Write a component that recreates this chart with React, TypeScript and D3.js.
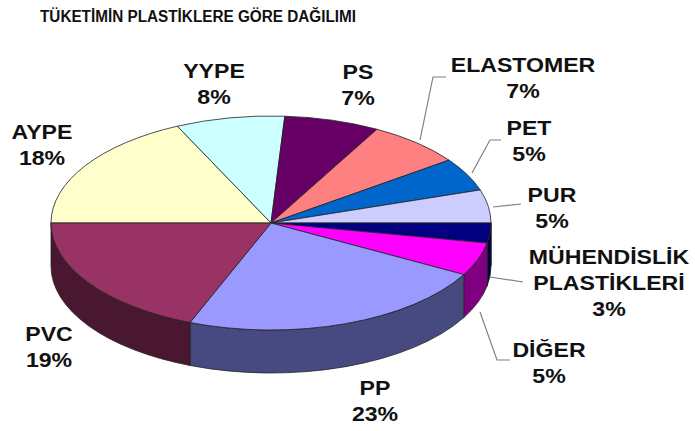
import React, { useEffect, useRef } from 'react'
import * as d3 from 'd3'

// slices in clockwise order, starting at 9 o'clock
const names = ['AYPE', 'YYPE', 'PS', 'ELASTOMER', 'PET', 'PUR', 'MÜHENDİSLİK PLASTİKLERİ', 'DİĞER', 'PP', 'PVC']
const values = [18, 8, 7, 7, 5, 5, 3, 5, 23, 19]
const topColors = ['#ffffcc', '#ccffff', '#660066', '#ff8080', '#0066cc', '#ccccff', '#000080', '#ff00ff', '#9999ff', '#993366']
const sideColors = ['#80805f', '#608080', '#330033', '#804040', '#003366', '#66667f', '#000045', '#800080', '#474a80', '#4a1730']

// label lines (text) for each slice
const labelLines = [
  ['AYPE', '18%'],
  ['YYPE', '8%'],
  ['PS', '7%'],
  ['ELASTOMER', '7%'],
  ['PET', '5%'],
  ['PUR', '5%'],
  ['MÜHENDİSLİK', 'PLASTİKLERİ', '3%'],
  ['DİĞER', '5%'],
  ['PP', '23%'],
  ['PVC', '19%'],
]
// label anchor: center x, first baseline y
const labelPos = [
  [42, 139], [214, 78], [358, 79], [523, 72], [529, 135],
  [552, 202], [609, 264], [549, 357], [375, 395], [49, 341],
]
// leader line polylines (only some slices have them)
const leaders: ([number, number][] | null)[] = [
  null, null, null,
  [[420, 140], [433, 77], [446, 77]],
  [[472, 173], [490, 140], [501, 140]],
  [[493, 207], [521, 204]],
  [[490, 277], [523, 282]],
  [[480, 312], [497, 360], [510, 360]],
  null, null,
]

const title = 'TÜKETİMİN PLASTİKLERE GÖRE DAĞILIMI'

export default function App() {
  const ref = useRef<SVGSVGElement>(null)

  useEffect(() => {
    const svg = d3.select(ref.current)
    svg.selectAll('*').remove()

    const cx = 271, cy = 223, rx = 220, ry = 107, depth = 43

    const pie = d3.pie<number>().sort(null).startAngle(-Math.PI / 2).endAngle(Math.PI * 1.5)
    const arcs = pie(values)

    const pt = (a: number, dy = 0): [number, number] => [cx + rx * Math.sin(a), cy - ry * Math.cos(a) + dy]

    // side walls (front half only)
    const g = svg.append('g')
    arcs.forEach((d, i) => {
      const a0 = Math.max(d.startAngle, Math.PI / 2)
      const a1 = Math.min(d.endAngle, Math.PI * 1.5)
      if (a1 <= a0) return
      const p0 = pt(a0), p1 = pt(a1), q1 = pt(a1, depth), q0 = pt(a0, depth)
      const large = a1 - a0 > Math.PI ? 1 : 0
      const path = `M${p0}A${rx},${ry} 0 ${large} 1 ${p1}L${q1}A${rx},${ry} 0 ${large} 0 ${q0}Z`
      g.append('path')
        .attr('d', path)
        .attr('fill', sideColors[i])
        .attr('stroke', '#222')
        .attr('stroke-width', 0.8)
        .attr('stroke-linejoin', 'round')
    })

    // top faces
    arcs.forEach((d, i) => {
      const p0 = pt(d.startAngle), p1 = pt(d.endAngle)
      const large = d.endAngle - d.startAngle > Math.PI ? 1 : 0
      g.append('path')
        .attr('d', `M${cx},${cy}L${p0}A${rx},${ry} 0 ${large} 1 ${p1}Z`)
        .attr('fill', topColors[i])
        .attr('stroke', '#222')
        .attr('stroke-width', 0.8)
        .attr('stroke-linejoin', 'round')
    })

    // leader lines
    const line = d3.line()
    leaders.forEach(l => {
      if (!l) return
      svg.append('path')
        .attr('d', line(l))
        .attr('fill', 'none')
        .attr('stroke', '#808080')
        .attr('stroke-width', 1.2)
    })

    // labels
    labelLines.forEach((lines, i) => {
      const [x, y] = labelPos[i]
      lines.forEach((t, j) => {
        svg.append('text')
          .attr('transform', `translate(${x},${y + j * 26}) scale(1.1,1)`)
          .attr('text-anchor', 'middle')
          .attr('font-family', 'Liberation Sans, Arial, sans-serif')
          .attr('font-weight', 'bold')
          .attr('font-size', 21)
          .attr('fill', '#111')
          .text(t)
      })
    })

    svg.append('text')
      .attr('x', 40)
      .attr('y', 22)
      .attr('font-family', 'Liberation Sans, Arial, sans-serif')
      .attr('font-weight', 'bold')
      .attr('font-size', 16)
      .attr('textLength', 316)
      .attr('lengthAdjust', 'spacingAndGlyphs')
      .attr('fill', '#111')
      .text(title)
  }, [])

  return (
    <svg ref={ref} width={695} height={431}
      style={{ position: 'absolute', left: 0, top: 0, background: '#fff' }} />
  )
}
